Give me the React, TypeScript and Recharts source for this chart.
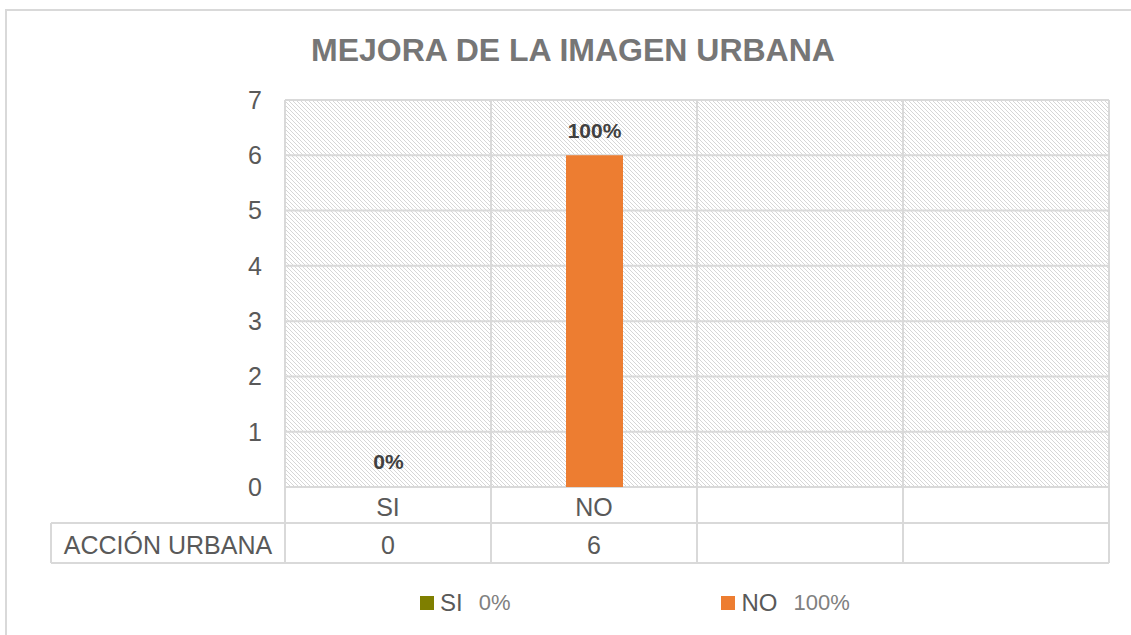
import React from 'react';
import { BarChart, Bar, XAxis, YAxis, CartesianGrid, Cell, LabelList } from 'recharts';

// categories of the x axis (last two are empty columns in the original)
const categories = ['SI', 'NO', '', ''];
const counts: (number | null)[] = [0, 6, null, null];
const percents = ['0%', '100%', '', ''];
const seriesName = 'ACCIÓN URBANA';
const yTicks = [0, 1, 2, 3, 4, 5, 6, 7];
const barColors = ['#7f7f00', '#ed7d31', '#a5a5a5', '#ffc000'];
const legendNames = ['SI', 'NO'];
const legendPercents = ['0%', '100%'];

const rows = categories.map((label, i) => ({
  key: `c${i}`,
  label,
  value: counts[i],
  pct: percents[i],
}));

const W = 1131;
const H = 635;
const Y_AXIS_W = 285;
const MARGIN = { top: 100, right: 22, bottom: 72, left: 0 };
const PLOT_W = W - MARGIN.left - MARGIN.right - Y_AXIS_W;
const AXIS_ROW_H = 36;
const TABLE_ROW_H = 40;
const HEADER_W = 234;
const GRID = '#d9d9d9';
const TEXT = '#595959';
const FONT = '"Liberation Sans", Arial, sans-serif';

function TableTick(props: any) {
  const { x, y, index } = props;
  const row = rows[index];
  if (!row) return null;
  const band = PLOT_W / rows.length;
  const left = x - band / 2;
  const right = x + band / 2;
  const bottom = y + AXIS_ROW_H + TABLE_ROW_H;
  return (
    <g>
      <line x1={right} y1={y} x2={right} y2={bottom} stroke={GRID} strokeWidth={2} />
      {index === 0 && (
        <g>
          <line x1={left} y1={y} x2={left} y2={bottom} stroke={GRID} strokeWidth={2} />
          <line x1={left - HEADER_W} y1={y + AXIS_ROW_H} x2={left + PLOT_W} y2={y + AXIS_ROW_H} stroke={GRID} strokeWidth={2} />
          <line x1={left - HEADER_W} y1={bottom} x2={left + PLOT_W} y2={bottom} stroke={GRID} strokeWidth={2} />
          <line x1={left - HEADER_W} y1={y + AXIS_ROW_H} x2={left - HEADER_W} y2={bottom} stroke={GRID} strokeWidth={2} />
          <text
            x={left - HEADER_W / 2}
            y={y + AXIS_ROW_H + 22}
            textAnchor="middle"
            dominantBaseline="central"
            fontSize={25}
            fill={TEXT}
          >
            {seriesName}
          </text>
        </g>
      )}
      <text x={x} y={y + 20} textAnchor="middle" dominantBaseline="central" fontSize={25} fill={TEXT}>
        {row.label}
      </text>
      <text x={x} y={y + AXIS_ROW_H + 22} textAnchor="middle" dominantBaseline="central" fontSize={25} fill={TEXT}>
        {row.value ?? ''}
      </text>
    </g>
  );
}

function PctLabel(props: any) {
  const { x, y, width, value } = props;
  const row = rows.find((r) => r.value === Number(value));
  if (!row || row.value == null) return null;
  return (
    <text
      x={x + width / 2}
      y={y - 25}
      textAnchor="middle"
      dominantBaseline="central"
      fontWeight="bold"
      fontSize={21}
      fill="#404040"
    >
      {row.pct}
    </text>
  );
}

export default function App() {
  return (
    <div
      style={{
        position: 'fixed',
        left: 0,
        top: 0,
        width: W,
        height: H,
        overflow: 'hidden',
        background: '#fff',
        fontFamily: FONT,
      }}
    >
      <div
        style={{
          position: 'absolute',
          left: 5,
          top: 9,
          width: 1200,
          height: 700,
          border: `2px solid ${GRID}`,
        }}
      />
      <div
        style={{
          position: 'absolute',
          left: 5,
          width: 1136,
          top: 30,
          lineHeight: '40px',
          textAlign: 'center',
          fontSize: 32,
          fontWeight: 'bold',
          color: '#767676',
        }}
      >
        MEJORA DE LA IMAGEN URBANA
      </div>
      <div style={{ position: 'absolute', left: 0, top: 0 }}>
        <BarChart width={W} height={H} data={rows} margin={MARGIN} style={{ fontFamily: FONT }}>
          <defs>
            <pattern id="hatch" patternUnits="userSpaceOnUse" width={4} height={4}>
              <rect width={4} height={4} fill="#fff" />
              <path d="M0,0 L4,4 M-1,3 L1,5 M3,-1 L5,1" stroke="#d6d6d6" strokeWidth={1} />
            </pattern>
          </defs>
          <CartesianGrid
            fill="url(#hatch)"
            fillOpacity={1}
            stroke={GRID}
            strokeWidth={2}
            verticalCoordinatesGenerator={({ offset }: any) =>
              rows.map((_, i) => offset.left + (i * offset.width) / rows.length).concat(offset.left + offset.width)
            }
          />
          <XAxis
            dataKey="key"
            type="category"
            axisLine={false}
            tickLine={false}
            tickSize={0}
            tickMargin={0}
            height={AXIS_ROW_H + TABLE_ROW_H}
            interval={0}
            tick={<TableTick />}
          />
          <YAxis
            type="number"
            domain={[0, 7]}
            ticks={yTicks}
            width={Y_AXIS_W}
            axisLine={false}
            tickLine={false}
            tickSize={0}
            tickMargin={23}
            tick={{ fill: TEXT, fontSize: 25 }}
          />
          <Bar dataKey="value" barSize={57} minPointSize={0.01} isAnimationActive={false}>
            {rows.map((r, i) => (
              <Cell key={r.key} fill={barColors[i]} />
            ))}
            <LabelList dataKey="value" content={<PctLabel />} />
          </Bar>
        </BarChart>
      </div>
      <div
        style={{
          position: 'absolute',
          top: 589,
          left: 420,
          display: 'flex',
          alignItems: 'center',
          gap: 211,
          lineHeight: '28px',
        }}
      >
        {legendNames.map((name, i) => (
          <div key={name} style={{ display: 'flex', alignItems: 'center' }}>
            <span style={{ width: 14, height: 14, background: barColors[i], marginRight: 6, display: 'inline-block' }} />
            <span style={{ fontSize: 24, color: TEXT }}>{name}</span>
            <span style={{ fontSize: 22, color: '#808080', marginLeft: 16 }}>{legendPercents[i]}</span>
          </div>
        ))}
      </div>
    </div>
  );
}
